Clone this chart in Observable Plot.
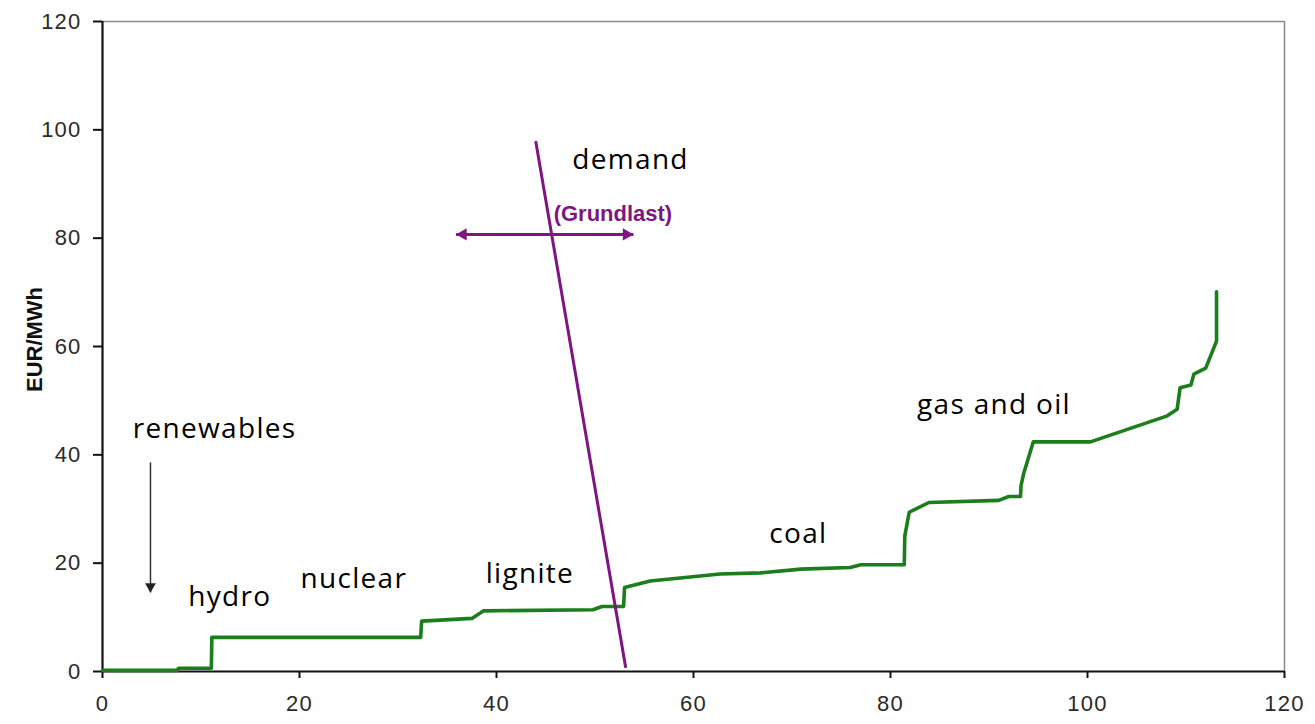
<!DOCTYPE html>
<html>
<head>
<meta charset="utf-8">
<script src="https://cdn.jsdelivr.net/npm/d3@7"></script>
<script src="https://cdn.jsdelivr.net/npm/@observablehq/plot@0.6"></script>
<style>
  body { margin: 0; background: #fff; }
</style>
</head>
<body>
<div id="chart"></div>
<script>
// Merit-order supply curve (capacity GW vs. EUR/MWh)
const supplyX = [0, 7.6, 7.7, 11.05, 11.1, 32.3, 32.4, 37.5, 38.7, 49.8, 50.7, 52.9, 53.0, 55.6, 62.7, 66.8, 70.9, 75.9, 77.0, 81.4, 81.45, 81.9, 83.9, 91.0, 92.0, 93.2, 93.25, 93.5, 94.5, 100.3, 108.1, 109.1, 109.4, 110.5, 110.8, 112.0, 113.1, 113.1];
const supplyY = [0.2, 0.2, 0.6, 0.6, 6.3, 6.3, 9.3, 9.8, 11.2, 11.4, 12.0, 12.0, 15.5, 16.7, 18.0, 18.2, 18.9, 19.2, 19.7, 19.7, 25.0, 29.4, 31.2, 31.6, 32.3, 32.3, 34.3, 36.4, 42.4, 42.4, 47.2, 48.4, 52.4, 52.9, 54.9, 56.0, 61.0, 70.1];

// Demand line
const demandX = [44.0, 53.1];
const demandY = [97.7, 0.9];

// Demand shift arrow (Grundlast)
const shiftX = [35.9, 53.9];
const shiftY = [80.7, 80.7];
const shiftLabel = ["(Grundlast)"];
const shiftLabelX = [45.8];
const shiftLabelY = [83.2];

// Renewables arrow
const renewX = [4.87];
const renewY = [38.6, 14.6];

// Text labels
const labelText = ["renewables", "hydro", "nuclear", "lignite", "coal", "gas and oil", "demand"];
const labelX = [3.08, 8.7, 20.1, 38.9, 67.7, 82.7, 47.7];
const labelY = [43.2, 12.1, 15.5, 16.4, 23.8, 47.5, 92.8];

// Axis ticks
const xTicks = [0, 20, 40, 60, 80, 100, 120];
const yTicks = [0, 20, 40, 60, 80, 100, 120];
const yLabel = ["EUR/MWh"];

const green = "#1b7d1b";
const purple = "#7f1581";
const tickColor = "#2a2a2a";

const chart = Plot.plot({
  width: 1315,
  height: 724,
  marginLeft: 102,
  marginRight: 31,
  marginTop: 21,
  marginBottom: 53,
  style: { fontFamily: "Liberation Sans, Arial, sans-serif", background: "#fff" },
  x: { domain: [0, 120], label: null },
  y: { domain: [0, 120], label: null },
  marks: [
    Plot.ruleY([120], { stroke: "#8a8a8a", strokeWidth: 1.5 }),
    Plot.ruleX([120], { stroke: "#8a8a8a", strokeWidth: 1.5 }),
    Plot.axisX({ ticks: xTicks, tickSize: 7, tickFormat: () => "", stroke: "#111", strokeWidth: 2, label: null }),
    Plot.axisY({ ticks: yTicks, tickSize: 9, tickFormat: () => "", stroke: "#111", strokeWidth: 2, label: null }),
    // tick labels
    Plot.text(xTicks, { x: d => d, y: 0, text: d => String(d), dy: 32, lineAnchor: "middle", fontSize: 22, fill: tickColor }),
    Plot.text(yTicks, { x: 0, y: d => d, text: d => String(d), dx: -21, textAnchor: "end", lineAnchor: "middle", fontSize: 22, fill: tickColor }),
    Plot.ruleX([0], { stroke: "#111", strokeWidth: 2.2 }),
    Plot.ruleY([0], { stroke: "#111", strokeWidth: 2.2 }),
    Plot.text(yLabel, { frameAnchor: "left", textAnchor: "middle", rotate: -90, dx: -68, dy: -7, fontSize: 22, fontWeight: "bold", fill: "#111" }),
    // supply curve
    Plot.line(supplyX, { x: supplyX, y: supplyY, stroke: green, strokeWidth: 3.6 }),
    // demand
    Plot.line(demandX, { x: demandX, y: demandY, stroke: purple, strokeWidth: 3 }),
    // shift arrow
    Plot.link([0], { x1: shiftX[0], x2: shiftX[1], y1: shiftY[0], y2: shiftY[1], stroke: purple, strokeWidth: 3 }),
    Plot.dot([0], { x: shiftX[0], y: shiftY[0], symbol: "triangle", r: 4.6, rotate: -90, dx: 7, fill: purple, stroke: "none" }),
    Plot.dot([0], { x: shiftX[1], y: shiftY[1], symbol: "triangle", r: 4.6, rotate: 90, dx: -7, fill: purple, stroke: "none" }),
    Plot.text(shiftLabel, { x: shiftLabelX, y: shiftLabelY, text: d => d, textAnchor: "start", lineAnchor: "bottom", fontSize: 22, fontWeight: "bold", fill: purple }),
    // renewables arrow
    Plot.link([0], { x1: renewX[0], x2: renewX[0], y1: renewY[0], y2: renewY[1], stroke: "#333", strokeWidth: 1.5 }),
    Plot.dot([0], { x: renewX[0], y: renewY[1], symbol: "triangle", r: 4, rotate: 180, dy: -6, fill: "#222", stroke: "none" }),
    // labels
    Plot.text(labelText, { x: labelX, y: labelY, text: d => d, textAnchor: "start", lineAnchor: "bottom", fontSize: 28, fontFamily: "Open Sans", fill: "#000" })
  ]
});

document.getElementById("chart").appendChild(chart);

// typographic tweaks to match reference glyph widths
const texts = d3.select(chart).selectAll('g[aria-label="text"]').nodes();
if (texts.length) {
  d3.select(texts[texts.length - 1]).attr("letter-spacing", "1.3");
  d3.select(texts[0]).attr("letter-spacing", "1.2");
  d3.select(texts[1]).attr("letter-spacing", "1.2");
}
</script>
</body>
</html>
